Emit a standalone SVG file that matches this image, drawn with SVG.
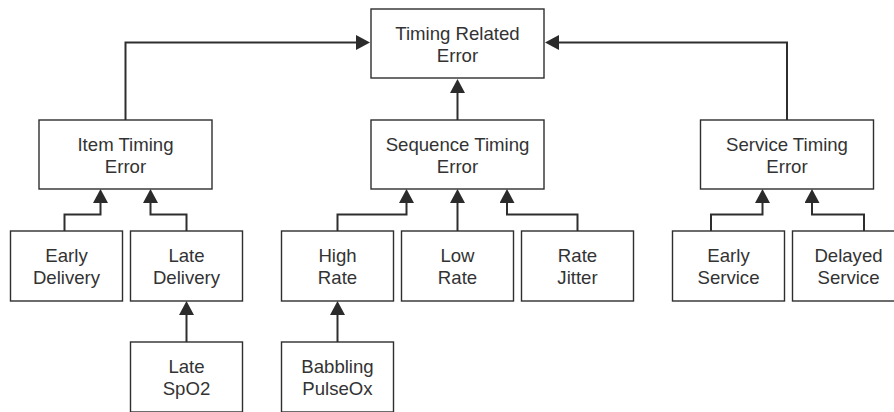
<svg xmlns="http://www.w3.org/2000/svg" width="894" height="412" viewBox="0 0 894 412">
<style>
.box{fill:#fff;stroke:#2e2e2e;stroke-width:1.4}
.t{font-family:"Liberation Sans",Arial,sans-serif;font-size:18.6px;fill:#333;text-anchor:middle}
.c{fill:none;stroke:#2e2e2e;stroke-width:2;marker-end:url(#ah)}
</style>
<defs>
<marker id="ah" markerUnits="userSpaceOnUse" markerWidth="16" markerHeight="16" refX="1" refY="7.5" orient="auto">
<path d="M0,0 L14,7.5 L0,15 z" fill="#2b2b2b"/>
</marker>
</defs>
<rect width="894" height="412" fill="#fff"/>
<g id="connectors">
<path class="c" d="M125.5,120 V42.5 H357"/>
<path class="c" d="M787,120 V42.5 H558"/>
<path class="c" d="M457.5,120 V92"/>
<path class="c" d="M64.5,231 V214.5 H100.5 V202"/>
<path class="c" d="M186.5,231 V214.5 H150.5 V202"/>
<path class="c" d="M337.5,231 V214.5 H406.5 V202"/>
<path class="c" d="M457.5,231 V202"/>
<path class="c" d="M577.5,231 V214.5 H507 V202"/>
<path class="c" d="M711,231 V214.5 H762.5 V202"/>
<path class="c" d="M864,231 V214.5 H812 V202"/>
<path class="c" d="M186.5,342 V314"/>
<path class="c" d="M337.5,342 V314"/>
</g>
<g id="timing-related-error"><rect class="box" x="371" y="9" width="173" height="69"/><text class="t" x="457.5" y="40">Timing Related</text><text class="t" x="457.5" y="61.5">Error</text></g>
<g id="item-timing-error"><rect class="box" x="39" y="120" width="173" height="69"/><text class="t" x="125.5" y="151">Item Timing</text><text class="t" x="125.5" y="172.5">Error</text></g>
<g id="sequence-timing-error"><rect class="box" x="371" y="120" width="173" height="69"/><text class="t" x="457.5" y="151">Sequence Timing</text><text class="t" x="457.5" y="172.5">Error</text></g>
<g id="service-timing-error"><rect class="box" x="700.5" y="120" width="173" height="69"/><text class="t" x="787" y="151">Service Timing</text><text class="t" x="787" y="172.5">Error</text></g>
<g id="early-delivery"><rect class="box" x="10.5" y="231" width="112" height="70"/><text class="t" x="66.5" y="262">Early</text><text class="t" x="66.5" y="283.5">Delivery</text></g>
<g id="late-delivery"><rect class="box" x="130.5" y="231" width="112" height="70"/><text class="t" x="186.5" y="262">Late</text><text class="t" x="186.5" y="283.5">Delivery</text></g>
<g id="high-rate"><rect class="box" x="281.5" y="231" width="112" height="70"/><text class="t" x="337.5" y="262">High</text><text class="t" x="337.5" y="283.5">Rate</text></g>
<g id="low-rate"><rect class="box" x="401.5" y="231" width="112" height="70"/><text class="t" x="457.5" y="262">Low</text><text class="t" x="457.5" y="283.5">Rate</text></g>
<g id="rate-jitter"><rect class="box" x="521.5" y="231" width="112" height="70"/><text class="t" x="577.5" y="262">Rate</text><text class="t" x="577.5" y="283.5">Jitter</text></g>
<g id="early-service"><rect class="box" x="672.5" y="231" width="112" height="70"/><text class="t" x="728.5" y="262">Early</text><text class="t" x="728.5" y="283.5">Service</text></g>
<g id="delayed-service"><rect class="box" x="792.5" y="231" width="112" height="70"/><text class="t" x="848.5" y="262">Delayed</text><text class="t" x="848.5" y="283.5">Service</text></g>
<g id="late-spo2"><rect class="box" x="130.5" y="342" width="112" height="70"/><text class="t" x="186.5" y="373">Late</text><text class="t" x="186.5" y="394.5">SpO2</text></g>
<g id="babbling-pulseox"><rect class="box" x="281.5" y="342" width="112" height="70"/><text class="t" x="337.5" y="373">Babbling</text><text class="t" x="337.5" y="394.5">PulseOx</text></g>
</svg>
